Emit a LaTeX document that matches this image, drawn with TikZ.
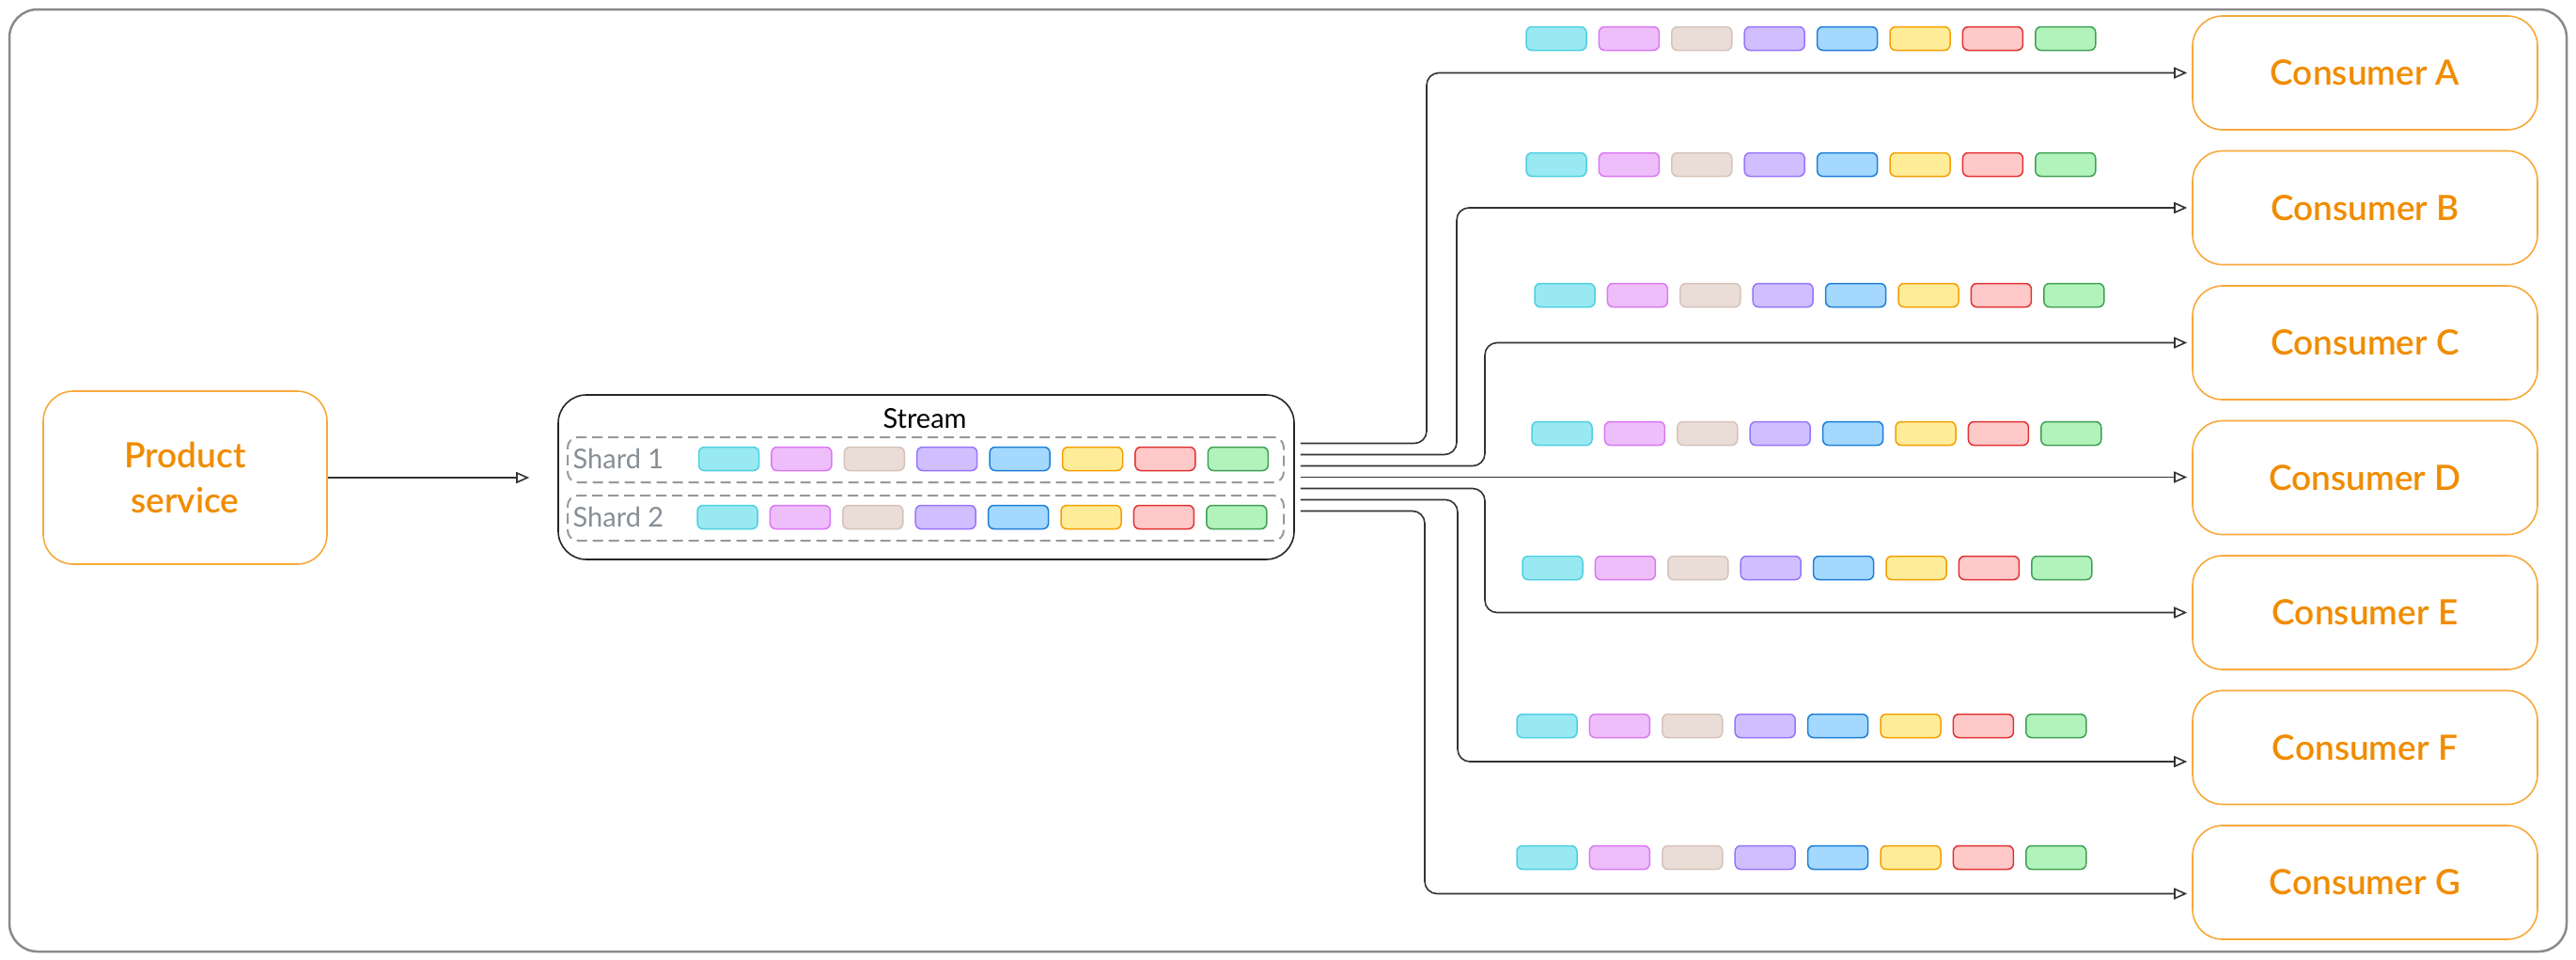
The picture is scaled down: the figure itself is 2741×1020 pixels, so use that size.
\documentclass[tikz,border=0pt]{standalone}
\usepackage{fontspec}
\setmainfont{Lato}
\newfontfamily\semifont{Lato Semibold}
\usepackage{xcolor}
\usepackage{tikz}
\usetikzlibrary{arrows.meta}

\definecolor{svcorange}{HTML}{F08C00}
\definecolor{svcline}{HTML}{F7A83A}
\definecolor{shardgray}{HTML}{868E96}
\definecolor{framegray}{HTML}{8A8A8A}
% message colours
\definecolor{cyanfill}{HTML}{99E9F2}   \definecolor{cyanline}{HTML}{4FD0E0}
\definecolor{grapefill}{HTML}{EEBEFA}  \definecolor{grapeline}{HTML}{DA77F2}
\definecolor{sandfill}{HTML}{EADDD7}   \definecolor{sandline}{HTML}{D5C3BA}
\definecolor{violetfill}{HTML}{D0BFFF} \definecolor{violetline}{HTML}{9775FA}
\definecolor{bluefill}{HTML}{A5D8FF}   \definecolor{blueline}{HTML}{1C7ED6}
\definecolor{yellowfill}{HTML}{FFEC99} \definecolor{yellowline}{HTML}{F59F00}
\definecolor{redfill}{HTML}{FFC9C9}    \definecolor{redline}{HTML}{E03131}
\definecolor{greenfill}{HTML}{B2F2BB}  \definecolor{greenline}{HTML}{40A054}

\begin{document}
\begin{tikzpicture}[x=1pt, y=-1pt,
    svcbox/.style={draw=svcline, line width=1.6pt, rounded corners=32pt, text=svcorange,
        align=center, font=\semifont\fontsize{37}{48}\selectfont, minimum width=367pt, minimum height=121pt},
    streambox/.style={draw=black!85, line width=1.6pt, rounded corners=30pt,
        minimum width=783pt, minimum height=175pt},
    shardbox/.style={draw=black!40, line width=2pt, dash pattern=on 11pt off 6pt,
        rounded corners=11pt, minimum width=762pt, minimum height=48pt},
    shardlbl/.style={text=shardgray, font=\fontsize{29}{32}\selectfont, inner sep=0pt},
    pill/.style={draw=#1line, fill=#1fill, line width=1.5pt, rounded corners=6pt,
        minimum width=64pt, minimum height=25pt, inner sep=0pt},
    flow/.style={draw=black!80, line width=1.6pt, rounded corners=13pt,
        -{Triangle[open, length=14pt, width=12pt]}, shorten >=5pt}]

    \useasboundingbox (0,0) rectangle (2741,1020);
    \draw[framegray, line width=2.5pt, rounded corners=30pt] (10,10) rectangle (2731,1012);

    % Producer
    \node[svcbox, minimum width=302pt, minimum height=184pt] (product) at (197,508) {Product\\service};

    % Stream with its two shards
    \node[streambox] (stream) at (985.5,507.5) {};
    \node[font=\fontsize{29}{32}\selectfont, inner sep=0pt] (streamlbl) at (984,445) {Stream};
    \node[shardbox] (shard1) at (985,489) {};
    \node[shardbox] (shard2) at (985,551) {};
    \node[shardlbl] (shard1lbl) at (658,488) {Shard 1};
    \node[shardlbl] (shard2lbl) at (658,550) {Shard 2};
    \foreach \col [count=\k] in {cyan,grape,sand,violet,blue,yellow,red,green} {
        \node[pill=\col] (s1m\k) at ({775.5+77.4*(\k-1)},488) {};
        \node[pill=\col] (s2m\k) at ({774+77.4*(\k-1)},550) {};
    }

    \coordinate (streamin) at ([xshift=-30pt]stream.west);
    \draw[flow, shorten >=0pt] (product.east) -- (streamin |- product.east);

    % Consumers
    \foreach \c [count=\i] in {A,B,C,D,E,F,G}
        \node[svcbox] (c\c) at (2516.5,{77.5+143.5*(\i-1)}) {Consumer \c};

    % Fan-out from the stream to every consumer
    \foreach \c/\xv/\dy [count=\i] in {A/1518/0, B/1550/0, C/1580/0, D/1580/0, E/1580/0, F/1551/-15, G/1516/-12}
        \coordinate (out\c) at ([xshift=6pt, yshift={(4-\i)*12pt}]stream.east);
    \foreach \c/\xv/\dy in {A/1518/0, B/1550/0, C/1580/0, E/1580/0, F/1551/-15, G/1516/-12} {
        \coordinate (bend\c) at (\xv,0);
        \coordinate (in\c) at ([yshift=\dy pt]c\c.west);
        \draw[flow] (out\c) -| (bend\c |- in\c) -- (in\c);
    }
    \draw[flow] (outD) -- (outD -| cD.west);

    % Messages delivered to each consumer
    \foreach \c/\x/\y in {A/1656/41, B/1656/175, C/1665/314, D/1662/461, E/1652/604, F/1646/772, G/1646/912}
        \foreach \col [count=\k] in {cyan,grape,sand,violet,blue,yellow,red,green}
            \node[pill=\col] (m\c\k) at ({\x+77.4*(\k-1)},\y) {};
\end{tikzpicture}
\end{document}
